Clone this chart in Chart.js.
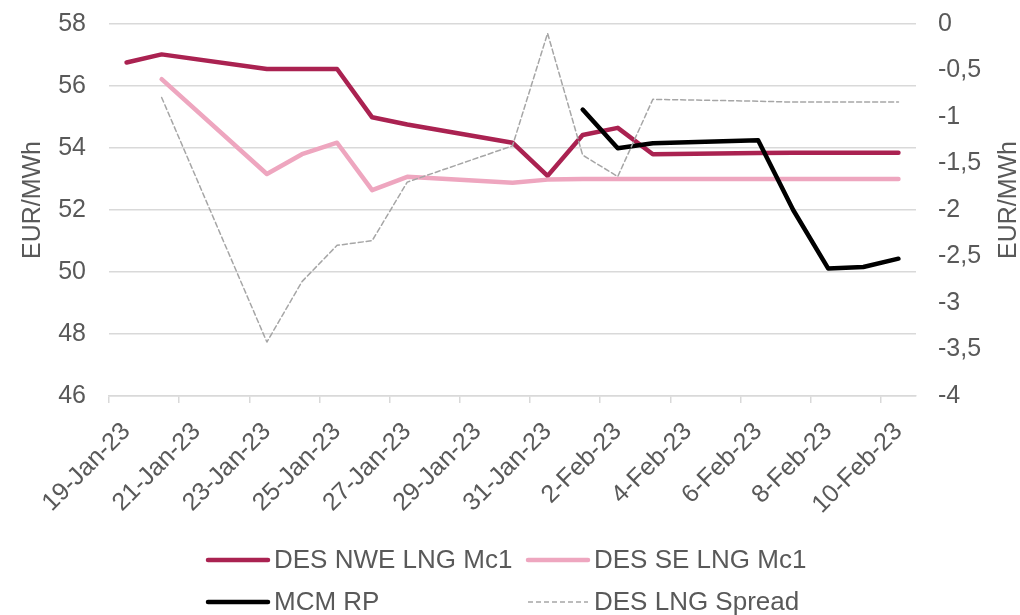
<!DOCTYPE html>
<html>
<head>
<meta charset="utf-8">
<script src="https://cdn.jsdelivr.net/npm/chart.js@4.4.1/dist/chart.umd.min.js"></script>
<style>
  html, body { margin: 0; padding: 0; background: #fff; }
  #wrap { width: 1020px; height: 615px; }
</style>
</head>
<body>
<div id="wrap"><canvas id="c"></canvas></div>
<script>
// one category per calendar day, weekends left empty
const days = ['19-Jan-23','20-Jan-23','21-Jan-23','22-Jan-23','23-Jan-23','24-Jan-23','25-Jan-23',
  '26-Jan-23','27-Jan-23','28-Jan-23','29-Jan-23','30-Jan-23','31-Jan-23','1-Feb-23','2-Feb-23',
  '3-Feb-23','4-Feb-23','5-Feb-23','6-Feb-23','7-Feb-23','8-Feb-23','9-Feb-23','10-Feb-23'];

const nweMc1 = [56.76, 57.02, null, null, 56.55, 56.55, 56.55, 54.99, 54.76, null, null, 54.17, 53.10,
  54.42, 54.65, 53.80, null, null, 53.84, 53.85, 53.85, 53.85, 53.85];
const seMc1 = [null, 56.22, null, null, 53.16, 53.80, 54.17, 52.64, 53.07, null, null, 52.88, 52.98,
  53.00, 53.00, 53.00, null, null, 53.00, 53.00, 53.00, 53.00, 53.00];
const mcmRp = [null, null, null, null, null, null, null, null, null, null, null, null, null,
  55.24, 53.99, 54.15, null, null, 54.25, 52.00, 50.11, 50.16, 50.43];
const lngSpread = [null, -0.79, null, null, -3.42, -2.77, -2.38, -2.33, -1.70, null, null, -1.31, -0.10,
  -1.41, -1.64, -0.81, null, null, -0.83, -0.84, -0.84, -0.84, -0.84];

const seriesNames = ['DES NWE LNG Mc1', 'DES SE LNG Mc1', 'MCM RP', 'DES LNG Spread'];
const axisTitle = 'EUR/MWh';

const FONT = '"Liberation Sans", Arial, sans-serif';
const TEXT = '#595959';
const GRID = '#d9d9d9';

// 2x2 legend under the chart plus both axis titles (right one reads bottom-up like Excel)
const extras = {
  id: 'extras',
  afterDraw(chart) {
    const ctx = chart.ctx;
    ctx.save();
    ctx.font = '26px ' + FONT;
    ctx.fillStyle = TEXT;
    ctx.textBaseline = 'middle';
    chart.data.datasets.forEach((d, i) => {
      const x = i % 2 === 0 ? 208 : 528;
      const y = i < 2 ? 560 : 602;
      ctx.save();
      ctx.strokeStyle = d.borderColor;
      ctx.lineWidth = d.borderWidth;
      ctx.setLineDash(d.borderDash || []);
      ctx.lineCap = d.borderDash ? 'butt' : 'round';
      ctx.beginPath();
      ctx.moveTo(x, y);
      ctx.lineTo(x + 60, y);
      ctx.stroke();
      ctx.restore();
      ctx.textAlign = 'left';
      ctx.fillText(d.label, x + 66, y + 1);
    });
    ctx.font = '25px ' + FONT;
    ctx.textAlign = 'center';
    [[33, 200], [1009, 200]].forEach(([x, y]) => {
      ctx.save();
      ctx.translate(x, y);
      ctx.rotate(-Math.PI / 2);
      ctx.fillText(axisTitle, 0, 0);
      ctx.restore();
    });
    ctx.restore();
  }
};

// fixed axis sizes so the plot area sits where the original one does
const fixWidth = w => s => { s.width = w; s.paddingTop = 0; s.paddingBottom = 0; };

new Chart(document.getElementById('c'), {
  type: 'line',
  data: {
    labels: days,
    datasets: [
      { label: seriesNames[0], data: nweMc1, borderColor: '#aa2251', borderWidth: 4.5, yAxisID: 'y', order: 4 },
      { label: seriesNames[1], data: seMc1, borderColor: '#eea6bf', borderWidth: 4.5, yAxisID: 'y', order: 3 },
      { label: seriesNames[2], data: mcmRp, borderColor: '#000000', borderWidth: 4.5, yAxisID: 'y', order: 2 },
      { label: seriesNames[3], data: lngSpread, borderColor: '#a6a6a6', borderWidth: 1.5, borderDash: [5, 3],
        yAxisID: 'y1', order: 1 }
    ]
  },
  options: {
    responsive: true,
    maintainAspectRatio: false,
    animation: false,
    spanGaps: true,
    layout: { padding: { top: 24, bottom: 89, left: 0, right: 0 } },
    elements: {
      point: { radius: 0, hoverRadius: 0 },
      line: { tension: 0, borderJoinStyle: 'round', borderCapStyle: 'round', fill: false }
    },
    plugins: { legend: { display: false }, tooltip: { enabled: false } },
    scales: {
      x: {
        type: 'category',
        offset: true,
        grid: {
          offset: true,
          drawOnChartArea: false,
          drawTicks: true,
          tickLength: 7,
          lineWidth: 1.5,
          color: c => (c.index % 2 === 0 ? GRID : 'rgba(0,0,0,0)')
        },
        border: { display: true, color: GRID, width: 1.5 },
        ticks: {
          autoSkip: false,
          minRotation: 45,
          maxRotation: 45,
          padding: 14,
          color: TEXT,
          font: { family: FONT, size: 25 },
          callback: function (v, i) { return i % 2 === 0 ? this.getLabelForValue(v) : ''; }
        },
        afterFit: s => { s.height = 130; s.paddingLeft = 0; s.paddingRight = 0; }
      },
      y: {
        position: 'left',
        min: 46,
        max: 58,
        ticks: { stepSize: 2, padding: 23, color: TEXT, font: { family: FONT, size: 25 } },
        grid: { color: GRID, lineWidth: 1.5, drawTicks: false },
        border: { display: false },
        afterFit: fixWidth(109)
      },
      y1: {
        position: 'right',
        min: -4,
        max: 0,
        ticks: {
          stepSize: 0.5, padding: 22, color: TEXT, font: { family: FONT, size: 25 },
          callback: v => String(v).replace('.', ',')
        },
        grid: { drawOnChartArea: false, drawTicks: false },
        border: { display: false },
        afterFit: fixWidth(104)
      }
    }
  },
  plugins: [extras]
});
</script>
</body>
</html>
